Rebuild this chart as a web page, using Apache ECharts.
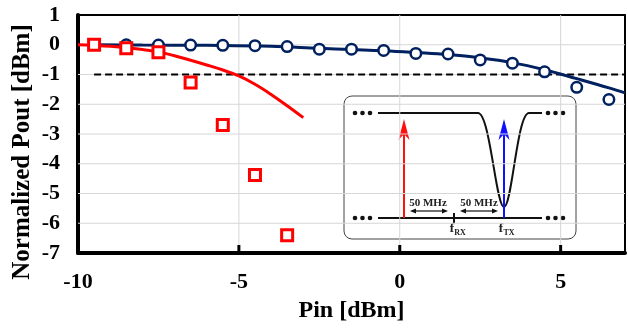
<!DOCTYPE html>
<html>
<head>
<meta charset="utf-8">
<script src="https://cdn.jsdelivr.net/npm/echarts@6/dist/echarts.min.js"></script>
<style>
  html, body { margin: 0; padding: 0; background: #fff; }
  #chart { width: 628px; height: 330px; }
</style>
</head>
<body>
<div id="chart"></div>
<script>
const serif = 'Liberation Serif'

// measured points (open circles / open squares)
const circleX = [-8.5, -7.5, -6.5, -5.5, -4.5, -3.5, -2.5, -1.5, -0.5, 0.5, 1.5, 2.5, 3.5, 4.5, 5.5, 6.5]
const circleY = [0, -0.01, -0.01, -0.02, -0.03, -0.06, -0.15, -0.15, -0.19, -0.29, -0.31, -0.51, -0.62, -0.91, -1.43, -1.84]
const squareX = [-9.5, -8.5, -7.5, -6.5, -5.5, -4.5, -3.5]
const squareY = [0, -0.12, -0.25, -1.27, -2.7, -4.38, -6.4]

// fitted / simulated curves
const fitX = [-9.5, -8, -6, -4, -2.5, -1.5, -0.5, 0.5, 1.5, 2.5, 3.5, 4.5, 5.5, 6.5, 7]
const fitY = [0, -0.01, -0.02, -0.05, -0.12, -0.16, -0.2, -0.26, -0.33, -0.44, -0.6, -0.84, -1.14, -1.45, -1.62]
const simX = [-10, -9.5, -9, -8.5, -8, -7.5, -7, -6.5, -6, -5.5, -5, -4.5, -4, -3.5, -3]
const simY = [0, -0.02, -0.05, -0.1, -0.16, -0.24, -0.37, -0.52, -0.68, -0.85, -1.05, -1.33, -1.67, -2.05, -2.45]

// -1 dB reference
const refX = [-9.5, 7]
const refY = [-1, -1]

// ticks and gridlines
const xTicks = [-10, -5, 0, 5]
const xGrid = [-5, 0, 5]
const yGrid = [-6, -5, -4, -3, -2, -1, 0]
const xRange = [-10, 7]
const yRange = [-7, 1]

const zip = (xs, ys) => xs.map((x, i) => [x, ys[i]])

const labelStyle = { fontFamily: serif, fontWeight: 'bold', fontSize: 22, color: '#000' }

// inset: filter sketch
const ink = '#111'
const dots = (x0, y) => [0, 1, 2].map(i => ({
  type: 'circle', shape: { cx: x0 + i * 7.5, cy: y, r: 2.3 }, style: { fill: ink }
}))
const seg = (x1, y1, x2, y2, color = ink, w = 2) => ({
  type: 'line', shape: { x1, y1, x2, y2 }, style: { stroke: color, lineWidth: w }
})
const curve = (x1, y1, cpx1, cpy1, cpx2, cpy2, x2, y2) => ({
  type: 'bezierCurve', shape: { x1, y1, cpx1, cpy1, cpx2, cpy2, x2, y2 },
  style: { stroke: ink, lineWidth: 2, fill: null }
})
const spur = (x, color) => [
  seg(x, 218, x, 132, color),
  { type: 'polygon', shape: { points: [[x, 119], [x - 5.5, 140], [x, 134], [x + 5.5, 140]] }, style: { fill: color } }
]
const dblArrow = (x1, x2, y) => [
  seg(x1 + 3, y, x2 - 3, y, ink, 1.2),
  { type: 'polygon', shape: { points: [[x1, y], [x1 + 6, y - 2.5], [x1 + 6, y + 2.5]] }, style: { fill: ink } },
  { type: 'polygon', shape: { points: [[x2, y], [x2 - 6, y - 2.5], [x2 - 6, y + 2.5]] }, style: { fill: ink } }
]
const insetText = (x, y, text, size) => ({
  type: 'text', x, y,
  style: { text, font: `bold ${size}px "${serif}"`, fill: '#222', align: 'center', verticalAlign: 'middle' }
})

const inset = [
  { type: 'rect', shape: { x: 344, y: 96, width: 232, height: 143, r: 8 },
    style: { fill: 'rgba(255,255,255,0.8)', stroke: '#444', lineWidth: 1 } },
  ...dots(355, 113), ...dots(548, 113), ...dots(355, 218), ...dots(548, 218),
  seg(378, 113, 478, 113),
  curve(478, 113, 490, 113, 496, 207, 504, 207),
  curve(504, 207, 512, 207, 517, 113, 529, 113),
  seg(529, 113, 542, 113),
  seg(378, 218, 542, 218),
  seg(454, 213, 454, 223),
  ...spur(404, '#ff1010'),
  ...spur(504, '#1010ff'),
  ...dblArrow(410, 448, 211),
  ...dblArrow(460, 498, 211),
  insetText(428, 203, '50 MHz', 11),
  insetText(479, 203, '50 MHz', 11),
  insetText(452, 229, 'f', 13), insetText(460, 233, 'RX', 8),
  insetText(501, 229, 'f', 13), insetText(509, 233, 'TX', 8)
]

// plain frame axes for the top and right borders
const frame = (pos, min, max) => ({
  type: 'value', position: pos, min, max,
  axisLine: { show: true, onZero: false, lineStyle: { color: '#000', width: 2 } },
  axisTick: { show: false }, axisLabel: { show: false }, splitLine: { show: false }
})

// gridlines and inward bottom ticks as plain two-point line series
const rule = (data, color, width, z) => ({
  type: 'line', data, symbol: 'none', silent: true, z,
  lineStyle: { color, width, type: 'solid' }
})
const gridSeries = [
  ...xGrid.map(v => rule([[v, yRange[0]], [v, yRange[1]]], '#d6d6d6', 1, 0)),
  ...yGrid.map(v => rule([[xRange[0], v], [xRange[1], v]], '#d6d6d6', 1, 0)),
  ...xGrid.map(v => rule([[v, yRange[0]], [v, yRange[0] + 0.27]], '#000', 3, 6))
]

const chart = echarts.init(document.getElementById('chart'))
chart.setOption({
  animation: false,
  grid: { left: 78, right: 2, top: 15, bottom: 77 },
  xAxis: [{
    type: 'value', min: xRange[0], max: xRange[1], interval: 5,
    name: 'Pin [dBm]', nameLocation: 'middle', nameGap: 46,
    nameTextStyle: { ...labelStyle, fontSize: 24 },
    axisLine: { show: true, onZero: false, lineStyle: { color: '#000', width: 4 } },
    axisTick: { show: false },
    axisLabel: { ...labelStyle, margin: 18, formatter: v => xTicks.includes(v) ? String(v) : '' },
    splitLine: { show: false }
  }, frame('top', xRange[0], xRange[1])],
  yAxis: [{
    type: 'value', min: yRange[0], max: yRange[1], interval: 1,
    axisLine: { show: true, onZero: false, lineStyle: { color: '#000', width: 4 } },
    axisTick: { show: false },
    axisLabel: { ...labelStyle, margin: 18 },
    splitLine: { show: false }
  }, frame('right', yRange[0], yRange[1])],
  graphic: [
    { type: 'text', x: 23, y: 152, rotation: Math.PI / 2,
      style: { text: 'Normalized Pout [dBm]', font: `bold 25px "${serif}"`, fill: '#000', align: 'center', verticalAlign: 'middle' } },
    { type: 'group', z: 100, children: inset }
  ],
  series: [
    ...gridSeries,
    { type: 'line', data: zip(refX, refY), symbol: 'none', z: 2,
      lineStyle: { color: '#000', width: 2, type: [7, 4] } },
    { type: 'line', data: zip(fitX, fitY), symbol: 'none', smooth: 0.4, z: 3,
      lineStyle: { color: '#002060', width: 3 } },
    { type: 'line', data: zip(simX, simY), symbol: 'none', smooth: 0.4, z: 3,
      lineStyle: { color: '#ff0000', width: 3 } },
    { type: 'scatter', data: zip(circleX, circleY), symbol: 'circle', symbolSize: 10.5, z: 4,
      itemStyle: { color: '#fff', opacity: 1, borderColor: '#002060', borderWidth: 2.5 } },
    { type: 'scatter', data: zip(squareX, squareY), symbol: 'rect', symbolSize: 11, z: 5,
      itemStyle: { color: '#fff', opacity: 1, borderColor: '#ff0000', borderWidth: 3 } }
  ]
})
</script>
</body>
</html>
